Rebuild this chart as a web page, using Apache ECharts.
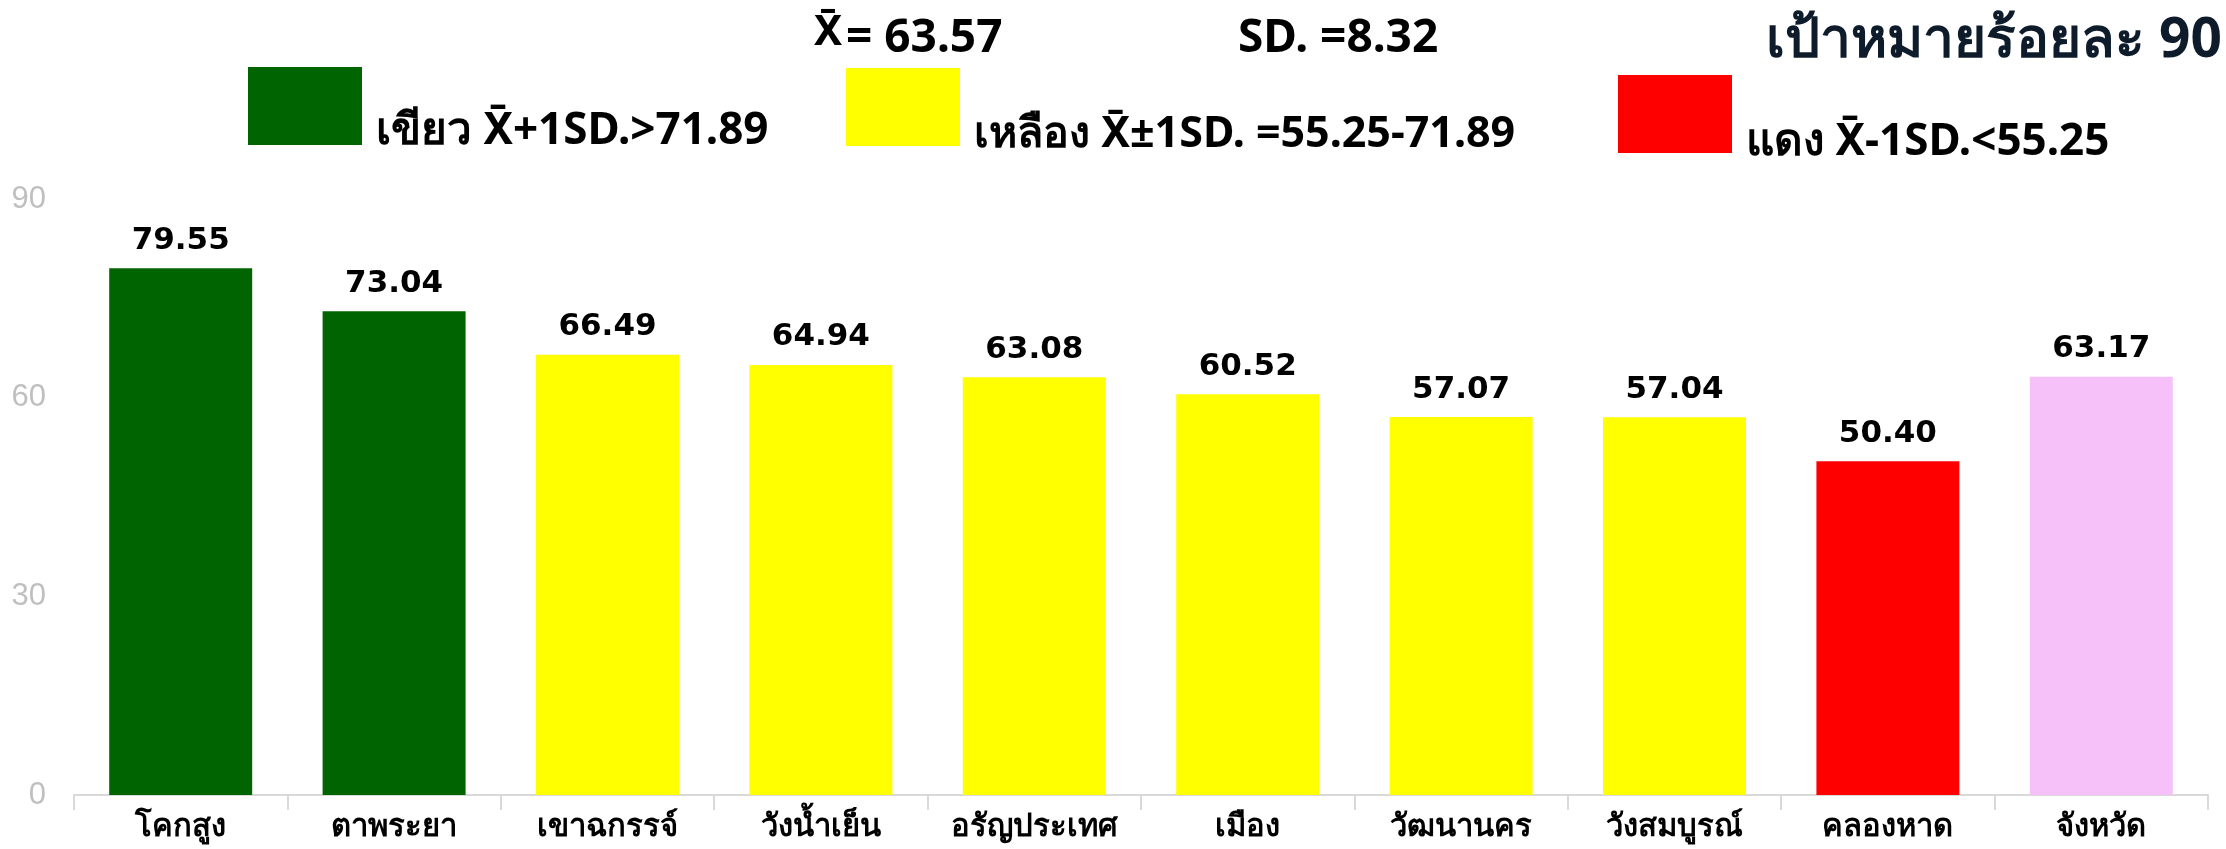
<!DOCTYPE html>
<html lang="th">
<head>
    <meta charset="UTF-8">
    <title>ร้อยละ</title>
    <script src="https://cdn.jsdelivr.net/npm/echarts@6/dist/echarts.min.js"></script>
    <style>
        html, body { margin: 0; padding: 0; height: 100%; overflow: hidden; background: #fff; }
        #chart { width: 2226px; height: 849px; }
    </style>
</head>
<body>
    <div id="chart"></div>
    <script>
        // data
        var districts = ['โคกสูง', 'ตาพระยา', 'เขาฉกรรจ์', 'วังน้ำเย็น', 'อรัญประเทศ', 'เมือง', 'วัฒนานคร', 'วังสมบูรณ์', 'คลองหาด', 'จังหวัด'];
        var scores = [79.55, 73.04, 66.49, 64.94, 63.08, 60.52, 57.07, 57.04, 50.40, 63.17];
        var yTicks = [0, 30, 60, 90];
        var meanVal = 63.57;
        var sdVal = 8.32;
        var upperVal = 71.89;
        var lowerVal = 55.25;
        var targetVal = 90;

        var GREEN = '#006400', YELLOW = '#ffff00', RED = '#ff0000', PINK = '#f6c0f8';
        var headFont = '"Liberation Sans Narrow", "Noto Sans", sans-serif';

        var barData = scores.map(function (v, i) {
            var c = YELLOW;
            if (districts[i] === 'จังหวัด') c = PINK;
            else if (v > upperVal) c = GREEN;
            else if (v < lowerVal) c = RED;
            return { value: v, itemStyle: { color: c } };
        });

        var chart = echarts.init(document.getElementById('chart'));
        var option = {
            animation: false,
            grid: { left: 74, right: 18, top: 199, bottom: 54 },
            xAxis: {
                type: 'category',
                data: districts,
                axisLine: { lineStyle: { color: '#d9d9d9', width: 2 } },
                axisTick: { show: true, interval: 0, length: 15, lineStyle: { color: '#d9d9d9', width: 2 } },
                axisLabel: { interval: 0, color: '#000', fontSize: 31, fontWeight: 'bold', margin: 17, fontFamily: '"Noto Sans", sans-serif' }
            },
            yAxis: {
                type: 'value',
                min: yTicks[0],
                max: yTicks[yTicks.length - 1],
                interval: 30,
                axisLine: { show: false },
                axisTick: { show: false },
                splitLine: { show: false },
                axisLabel: { color: '#bfbfbf', fontSize: 31, margin: 28, fontFamily: '"Liberation Sans", sans-serif' }
            },
            series: [{
                type: 'bar',
                data: barData,
                barCategoryGap: '33%',
                label: {
                    show: true,
                    position: 'top',
                    distance: 12,
                    color: '#000',
                    fontSize: 31,
                    fontWeight: 'bold',
                    fontFamily: '"DejaVu Sans", sans-serif',
                    formatter: function (p) { return p.value.toFixed(2); }
                }
            }],
            graphic: [
                { type: 'text', left: 814, top: 12, style: { text: 'X̄', font: 'bold 42px ' + headFont, fill: '#000' } },
                { type: 'text', left: 846, top: 16, style: { text: '= ' + meanVal.toFixed(2), font: 'bold 46px ' + headFont, fill: '#000' } },
                { type: 'text', left: 1238, top: 16, style: { text: 'SD. =' + sdVal.toFixed(2), font: 'bold 46px ' + headFont, fill: '#000' } },
                { type: 'text', right: 4, top: 14, style: { text: 'เป้าหมายร้อยละ ' + targetVal, font: 'bold 55px "Noto Sans", sans-serif', fill: '#0d1b2a' } },

                { type: 'rect', left: 248, top: 67, shape: { width: 114, height: 78 }, style: { fill: GREEN } },
                { type: 'text', left: 376, top: 109, style: { text: 'เขียว X̄+1SD.>' + upperVal.toFixed(2), font: 'bold 44px ' + headFont, fill: '#000' } },

                { type: 'rect', left: 846, top: 68, shape: { width: 114, height: 78 }, style: { fill: YELLOW } },
                { type: 'text', left: 974, top: 113, style: { text: 'เหลือง X̄±1SD. =' + lowerVal.toFixed(2) + '-' + upperVal.toFixed(2), font: 'bold 43px ' + headFont, fill: '#000' } },

                { type: 'rect', left: 1618, top: 75, shape: { width: 114, height: 78 }, style: { fill: RED } },
                { type: 'text', left: 1746, top: 120, style: { text: 'แดง X̄-1SD.<' + lowerVal.toFixed(2), font: 'bold 44px ' + headFont, fill: '#000' } }
            ]
        };
        chart.setOption(option);
    </script>
</body>
</html>
